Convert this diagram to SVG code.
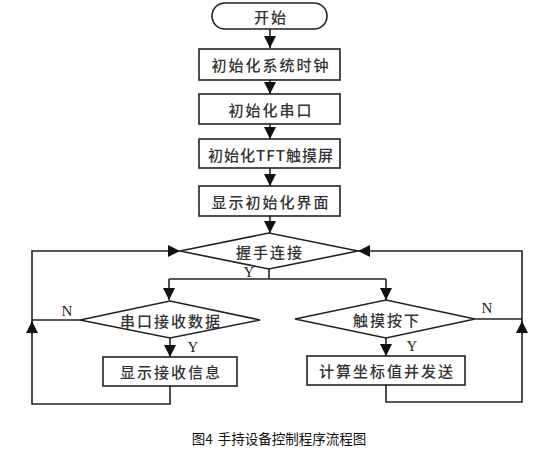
<svg xmlns="http://www.w3.org/2000/svg" width="546" height="451" viewBox="0 0 546 451">
<style>
.n{fill:#fff;stroke:#222;stroke-width:1.6}
.t{font-family:"Noto Sans CJK SC","Noto Sans",sans-serif;font-size:15px;font-weight:500;letter-spacing:2px;fill:#333;text-anchor:middle;dominant-baseline:central}
.l{font-family:"Liberation Serif",serif;font-size:15px;fill:#222;text-anchor:middle;dominant-baseline:central}
.c{fill:none;stroke:#222;stroke-width:1.6}
.cap{font-family:"Noto Sans CJK SC","Noto Sans",sans-serif;font-size:13.5px;fill:#111;text-anchor:middle;dominant-baseline:central}
</style>
<defs>
<marker id="ab" viewBox="0 0 10 10" refX="10" refY="5" markerWidth="12" markerHeight="12" markerUnits="userSpaceOnUse" orient="auto">
<path d="M0,0 L10,5 L0,10 Z" fill="#111"/>
</marker>
</defs>
<rect width="546" height="451" fill="#fff"/>
<g id="connectors">
<path class="c" d="M270,29 V48" marker-end="url(#ab)"/>
<path class="c" d="M270,80 V94" marker-end="url(#ab)"/>
<path class="c" d="M270,124 V139" marker-end="url(#ab)"/>
<path class="c" d="M270,168 V186" marker-end="url(#ab)"/>
<path class="c" d="M270,216 V233" marker-end="url(#ab)"/>
<path class="c" d="M269,269 V279"/>
<path class="c" d="M169,279 H386"/>
<path class="c" d="M169,279 V300" marker-end="url(#ab)"/>
<path class="c" d="M386,279 V300" marker-end="url(#ab)"/>
<path class="c" d="M170,338 V357" marker-end="url(#ab)"/>
<path class="c" d="M386,338 V356" marker-end="url(#ab)"/>
<path class="c" d="M80,320 H32"/>
<path class="c" d="M170,386 V404 H32 V251 H180" marker-end="url(#ab)"/>
<path class="c" d="M32,334 V321" marker-end="url(#ab)"/>
<path class="c" d="M475,319 H522"/>
<path class="c" d="M386,385 V402 H522 V251 H358" marker-end="url(#ab)"/>
<path class="c" d="M522,334 V321" marker-end="url(#ab)"/>
</g>
<g id="start">
<rect class="n" x="212" y="3" width="115" height="26" rx="13"/>
<text class="t" x="271" y="16">开始</text>
</g>
<g id="init-clock">
<rect class="n" x="199" y="49" width="141" height="31"/>
<text class="t" x="271" y="64">初始化系统时钟</text>
</g>
<g id="init-uart">
<rect class="n" x="199" y="94" width="141" height="30"/>
<text class="t" x="271" y="109">初始化串口</text>
</g>
<g id="init-tft">
<rect class="n" x="199" y="139" width="141" height="29"/>
<text class="t" x="271" y="154" style="letter-spacing:1px">初始化TFT触摸屏</text>
</g>
<g id="show-ui">
<rect class="n" x="199" y="186" width="141" height="30"/>
<text class="t" x="271" y="201">显示初始化界面</text>
</g>
<g id="handshake">
<polygon class="n" points="180,251 269,233 358,251 269,269"/>
<text class="t" x="270" y="251">握手连接</text>
<text class="l" x="249" y="272">Y</text>
</g>
<g id="uart-recv">
<polygon class="n" points="80,320 170,301 260,320 170,338"/>
<text class="t" x="171" y="320">串口接收数据</text>
<text class="l" x="67" y="311">N</text>
<text class="l" x="193" y="347">Y</text>
</g>
<g id="touch">
<polygon class="n" points="295,319 386,300 475,319 386,338"/>
<text class="t" x="387" y="319">触摸按下</text>
<text class="l" x="487" y="308">N</text>
<text class="l" x="412" y="346">Y</text>
</g>
<g id="show-recv">
<rect class="n" x="103" y="357" width="134" height="29"/>
<text class="t" x="171" y="371">显示接收信息</text>
</g>
<g id="calc-send">
<rect class="n" x="307" y="356" width="158" height="29"/>
<text class="t" x="387" y="370">计算坐标值并发送</text>
</g>
<text class="cap" x="279" y="438">图4<tspan dx="5">手持设备控制程序流程图</tspan></text>
</svg>
